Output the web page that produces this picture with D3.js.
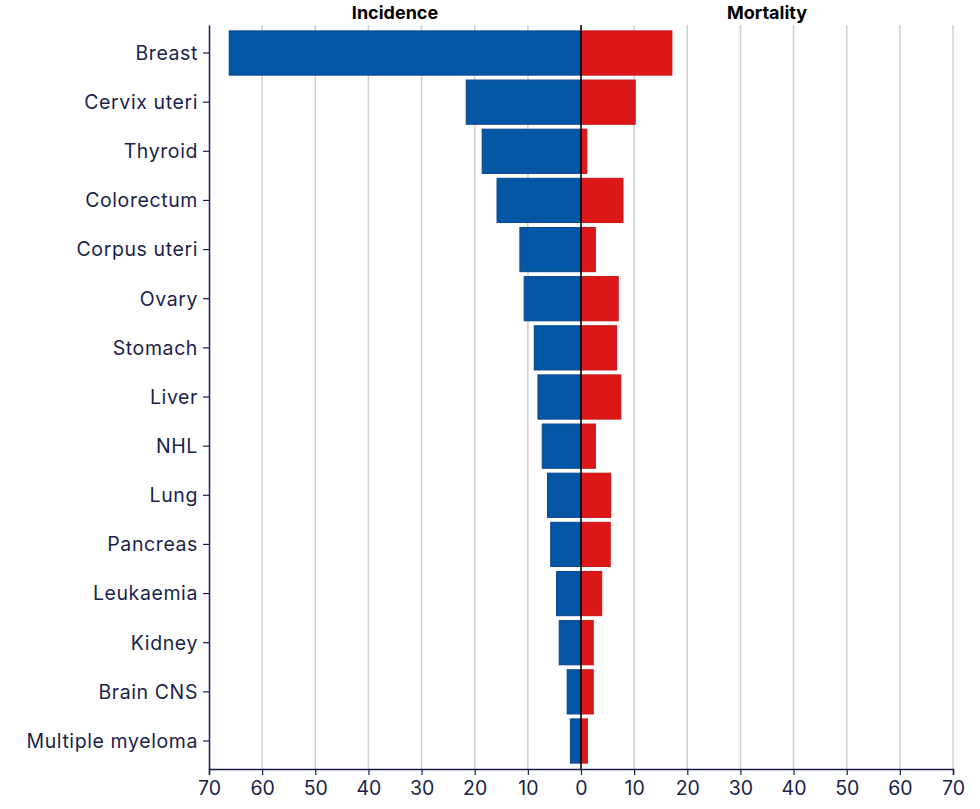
<!DOCTYPE html>
<html>
<head>
<meta charset="utf-8">
<script src="https://cdn.jsdelivr.net/npm/d3@7"></script>
<style>
  body { margin: 0; background: #fff; }
  svg { display: block; font-family: Inter, "Noto Sans", sans-serif; }
</style>
</head>
<body>
<svg width="980" height="809"></svg>
<script>
//data
const cancers = ["Breast", "Cervix uteri", "Thyroid", "Colorectum", "Corpus uteri", "Ovary", "Stomach",
  "Liver", "NHL", "Lung", "Pancreas", "Leukaemia", "Kidney", "Brain CNS", "Multiple myeloma"];
const incidence = [66.2, 21.6, 18.6, 15.8, 11.5, 10.7, 8.8, 8.1, 7.3, 6.3, 5.7, 4.6, 4.1, 2.6, 2.0];
const mortality = [17.1, 10.2, 1.1, 7.9, 2.7, 7.0, 6.7, 7.5, 2.7, 5.6, 5.5, 3.9, 2.3, 2.3, 1.2];
const tickValues = [-70, -60, -50, -40, -30, -20, -10, 0, 10, 20, 30, 40, 50, 60, 70];

const plotLeft = 209, plotRight = 953, plotTop = 25, plotBottom = 769;
const navy = "#1a1f4b";

const svg = d3.select("svg");

var xScale = d3.scaleLinear().domain([-70, 70]).range([plotLeft, plotRight]);
var yScale = d3.scaleBand()
  .domain(cancers)
  .range([plotTop, plotBottom])
  .paddingInner(0.1)
  .paddingOuter(0.12);

//grid lines
svg.append("g")
  .selectAll("line")
  .data(tickValues.filter(d => d !== -70))
  .enter()
  .append("line")
    .attr("x1", d => xScale(d))
    .attr("x2", d => xScale(d))
    .attr("y1", plotTop)
    .attr("y2", plotBottom)
    .attr("stroke", "#d0d0d0")
    .attr("stroke-width", 1.5);

//bars
svg.append("g")
  .selectAll("rect")
  .data(cancers)
  .enter()
  .append("rect")
    .attr("x", (d, i) => xScale(-incidence[i]))
    .attr("width", (d, i) => xScale(0) - xScale(-incidence[i]))
    .attr("y", d => yScale(d))
    .attr("height", yScale.bandwidth())
    .attr("fill", "#0256a4")
    .attr("stroke", "#0a4690")
    .attr("stroke-width", 1);

svg.append("g")
  .selectAll("rect")
  .data(cancers)
  .enter()
  .append("rect")
    .attr("x", xScale(0))
    .attr("width", (d, i) => xScale(mortality[i]) - xScale(0))
    .attr("y", d => yScale(d))
    .attr("height", yScale.bandwidth())
    .attr("fill", "#db1718")
    .attr("stroke", "#c81416")
    .attr("stroke-width", 1);

//zero line
svg.append("line")
  .attr("x1", xScale(0))
  .attr("x2", xScale(0))
  .attr("y1", plotTop)
  .attr("y2", plotBottom)
  .attr("stroke", "#000")
  .attr("stroke-width", 1.5);

//axes
var xAxis = svg.append("g")
  .attr("transform", `translate(0, ${plotBottom})`)
  .call(d3.axisBottom(xScale).tickValues(tickValues).tickFormat(d => Math.abs(d)).tickSizeOuter(0).tickSize(6));

var yAxis = svg.append("g")
  .attr("transform", `translate(${plotLeft}, 0)`)
  .call(d3.axisLeft(yScale).tickSize(6).tickSizeOuter(0));

[xAxis, yAxis].forEach(a => {
  a.select(".domain").attr("stroke", navy).attr("stroke-width", 1.5);
  a.selectAll(".tick line").attr("stroke", navy).attr("stroke-width", 1.2);
  a.selectAll("text").attr("fill", navy).style("font-family", "Inter, sans-serif");
});
xAxis.selectAll("text").attr("font-size", 19.5).attr("dy", "0.85em").attr("y", 9);
yAxis.selectAll("text").attr("font-size", 19.5).attr("x", -11).attr("dy", "0.35em")
  .style("letter-spacing", "0.6px");

//titles
svg.append("text")
  .attr("x", (xScale(-70) + xScale(0)) / 2)
  .attr("y", 19)
  .attr("text-anchor", "middle")
  .attr("font-size", 18)
  .attr("font-weight", "bold")
  .text("Incidence");

svg.append("text")
  .attr("x", (xScale(0) + xScale(70)) / 2)
  .attr("y", 19)
  .attr("text-anchor", "middle")
  .attr("font-size", 18)
  .attr("font-weight", "bold")
  .text("Mortality");
</script>
</body>
</html>
